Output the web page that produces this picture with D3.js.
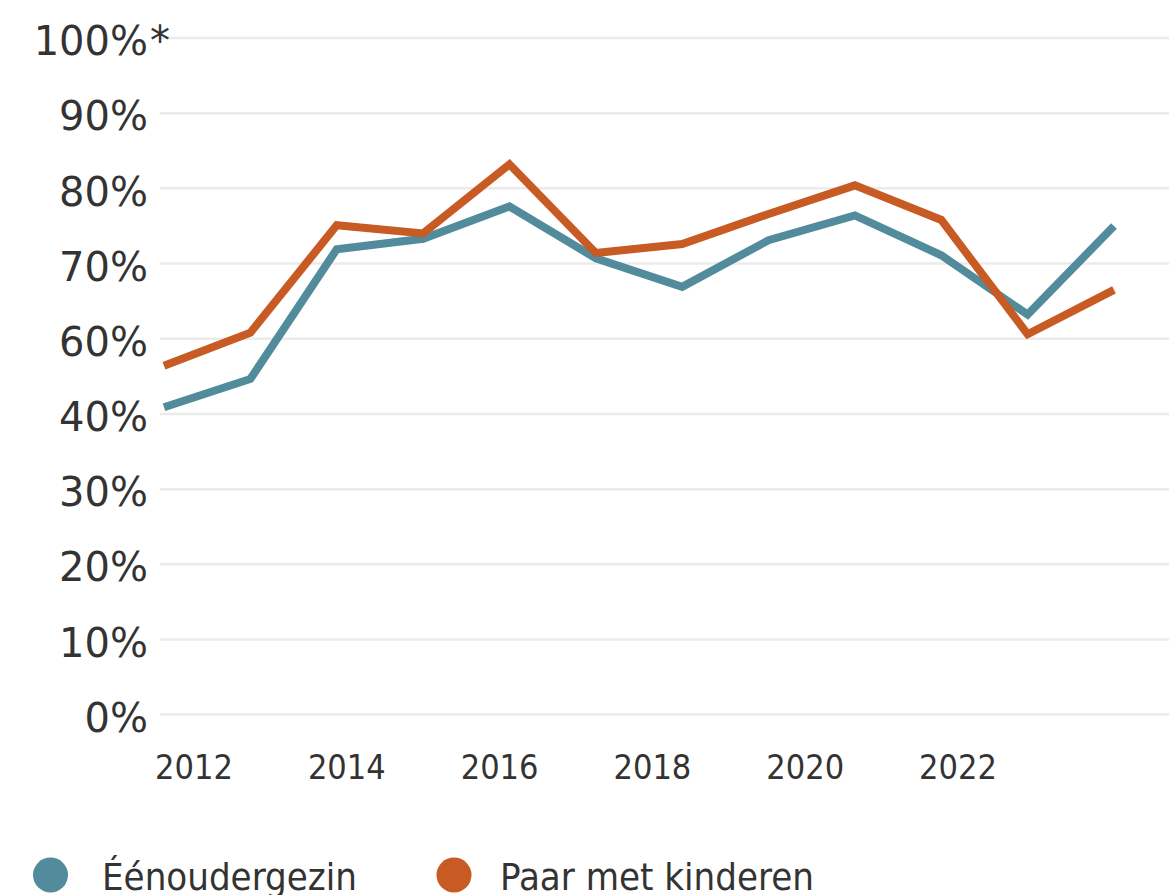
<!DOCTYPE html>
<html>
<head>
<meta charset="utf-8">
<script src="https://cdn.jsdelivr.net/npm/d3@7"></script>
<style>
  body { margin: 0; background: #fff; }
  svg { display: block; }
</style>
</head>
<body>
<script>
// data
var years = [2012, 2013, 2014, 2015, 2016, 2017, 2018, 2019, 2020, 2021, 2022, 2023];
var eenouder = [41.8, 49.3, 71.9, 73.3, 77.6, 70.7, 66.9, 73.1, 76.4, 71.1, 63.2, 75.0];
var paar = [52.8, 60.8, 75.1, 74.0, 83.2, 71.4, 72.6, 76.6, 80.4, 75.8, 60.6, 66.5];
var seriesNames = ["Éénoudergezin", "Paar met kinderen"];
var colors = ["#528b9b", "#c85a23"];
var yTicks = [0, 10, 20, 30, 40, 60, 70, 80, 90, 100];
var xTicks = [2012, 2014, 2016, 2018, 2020, 2022];

var width = 1169, height = 895;
var condensed = "'DejaVu Sans Condensed', 'DejaVu Sans', sans-serif";

var svg = d3.select("body").append("svg")
    .attr("width", width)
    .attr("height", height);

// the axis skips 50%, so the scale is piecewise
var y = d3.scaleLinear()
    .domain([0, 40, 60, 100])
    .range([714.5, 414, 338.7, 38]);

// points for the data, separate linear scale for the year labels
var x = d3.scalePoint().domain(years).range([164, 1114]);
var xLab = d3.scaleLinear().domain([2012, 2022]).range([194, 958]);

// gridlines
svg.append("g")
    .selectAll("line")
    .data(yTicks)
    .enter().append("line")
    .attr("x1", 160)
    .attr("x2", width)
    .attr("y1", function(d) { return y(d); })
    .attr("y2", function(d) { return y(d); })
    .attr("stroke", "#ebebeb")
    .attr("stroke-width", 2.5);

// y labels
svg.append("g")
    .selectAll("text")
    .data(yTicks)
    .enter().append("text")
    .attr("x", 148)
    .attr("y", function(d) { return y(d); })
    .attr("dy", "0.43em")
    .attr("text-anchor", "end")
    .attr("font-family", "'DejaVu Sans', Verdana, sans-serif")
    .attr("font-size", "40px")
    .attr("fill", "#333")
    .text(function(d) { return d + "%"; });

svg.append("text")
    .attr("x", 150)
    .attr("y", y(100))
    .attr("dy", "0.43em")
    .attr("font-family", "'DejaVu Sans', Verdana, sans-serif")
    .attr("font-size", "40px")
    .attr("fill", "#333")
    .text("*");

// x labels
svg.append("g")
    .selectAll("text")
    .data(xTicks)
    .enter().append("text")
    .attr("x", function(d) { return xLab(d); })
    .attr("y", 779)
    .attr("text-anchor", "middle")
    .attr("font-family", condensed)
    .attr("font-size", "34px")
    .attr("fill", "#333")
    .text(function(d) { return d; });

// lines
var line = d3.line()
    .x(function(d, i) { return x(years[i]); })
    .y(function(d) { return y(d); });

[eenouder, paar].forEach(function(s, i) {
    svg.append("path")
        .attr("d", line(s))
        .attr("fill", "none")
        .attr("stroke", colors[i])
        .attr("stroke-width", 8);
});

// legend
var circleX = [50.5, 454];
var labelX = [102, 500];
var leg = svg.append("g")
    .selectAll("g")
    .data(seriesNames)
    .enter().append("g");

leg.append("circle")
    .attr("cx", function(d, i) { return circleX[i]; })
    .attr("cy", 875)
    .attr("r", 17.5)
    .attr("fill", function(d, i) { return colors[i]; });

leg.append("text")
    .attr("x", function(d, i) { return labelX[i]; })
    .attr("y", 890)
    .attr("font-family", condensed)
    .attr("font-size", "38px")
    .attr("fill", "#333")
    .text(function(d) { return d; });
</script>
</body>
</html>
